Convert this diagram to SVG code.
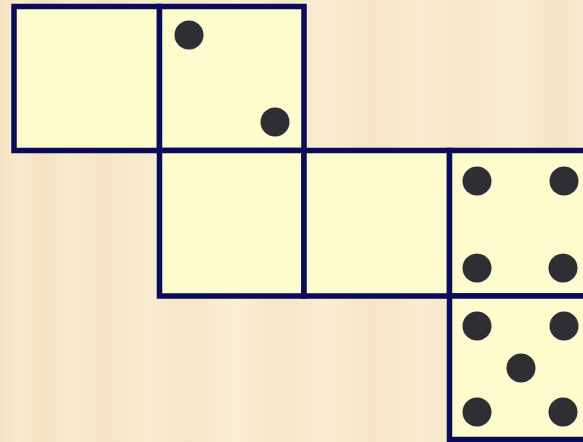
<svg xmlns="http://www.w3.org/2000/svg" width="583" height="442" viewBox="0 0 583 442">
<defs>
<linearGradient id="wood" x1="0" y1="0" x2="1" y2="0">
<stop offset="0" stop-color="#f5e2c0"/>
<stop offset="0.03" stop-color="#f9ebcf"/>
<stop offset="0.07" stop-color="#f4e1bf"/>
<stop offset="0.12" stop-color="#f8eace"/>
<stop offset="0.18" stop-color="#f5e3c3"/>
<stop offset="0.25" stop-color="#f9ecd1"/>
<stop offset="0.32" stop-color="#f6e5c6"/>
<stop offset="0.4" stop-color="#faeed5"/>
<stop offset="0.48" stop-color="#f6e6c8"/>
<stop offset="0.56" stop-color="#faedd3"/>
<stop offset="0.64" stop-color="#f6e4c5"/>
<stop offset="0.72" stop-color="#f9ecd1"/>
<stop offset="0.8" stop-color="#f6e5c8"/>
<stop offset="0.88" stop-color="#faeed5"/>
<stop offset="0.95" stop-color="#f5e3c4"/>
<stop offset="1" stop-color="#f8eacf"/>
</linearGradient>
<g id="pip"><circle cx="1" cy="1" r="14.5" fill="#f4f4f0"/><circle r="14.5" fill="#2f2f33"/></g>
</defs>
<style>
.face{fill:#fefccc;stroke:#0b0b5c;stroke-width:5.5;stroke-linejoin:miter}
</style>
<rect width="583" height="442" fill="url(#wood)"/>
<g id="face-blank-1"><rect class="face" x="14" y="6.5" width="145.5" height="144"/></g>
<g id="face-two"><rect class="face" x="159.5" y="6.5" width="144.5" height="144"/>
<use href="#pip" x="189" y="35"/><use href="#pip" x="275" y="122"/></g>
<g id="face-blank-2"><rect class="face" x="159.5" y="150.5" width="144.5" height="145.5"/></g>
<g id="face-blank-3"><rect class="face" x="304" y="150.5" width="145.5" height="145.5"/></g>
<g id="face-four"><rect class="face" x="449.5" y="150.5" width="145.5" height="145.5"/>
<use href="#pip" x="477" y="181"/><use href="#pip" x="564" y="181"/>
<use href="#pip" x="477" y="268"/><use href="#pip" x="563" y="268"/></g>
<g id="face-five"><rect class="face" x="449.5" y="296" width="145.5" height="143.5"/>
<use href="#pip" x="477" y="326"/><use href="#pip" x="564" y="326"/>
<use href="#pip" x="521" y="368"/>
<use href="#pip" x="477" y="412"/><use href="#pip" x="563" y="412"/></g>
<g id="connectors"/>
</svg>
